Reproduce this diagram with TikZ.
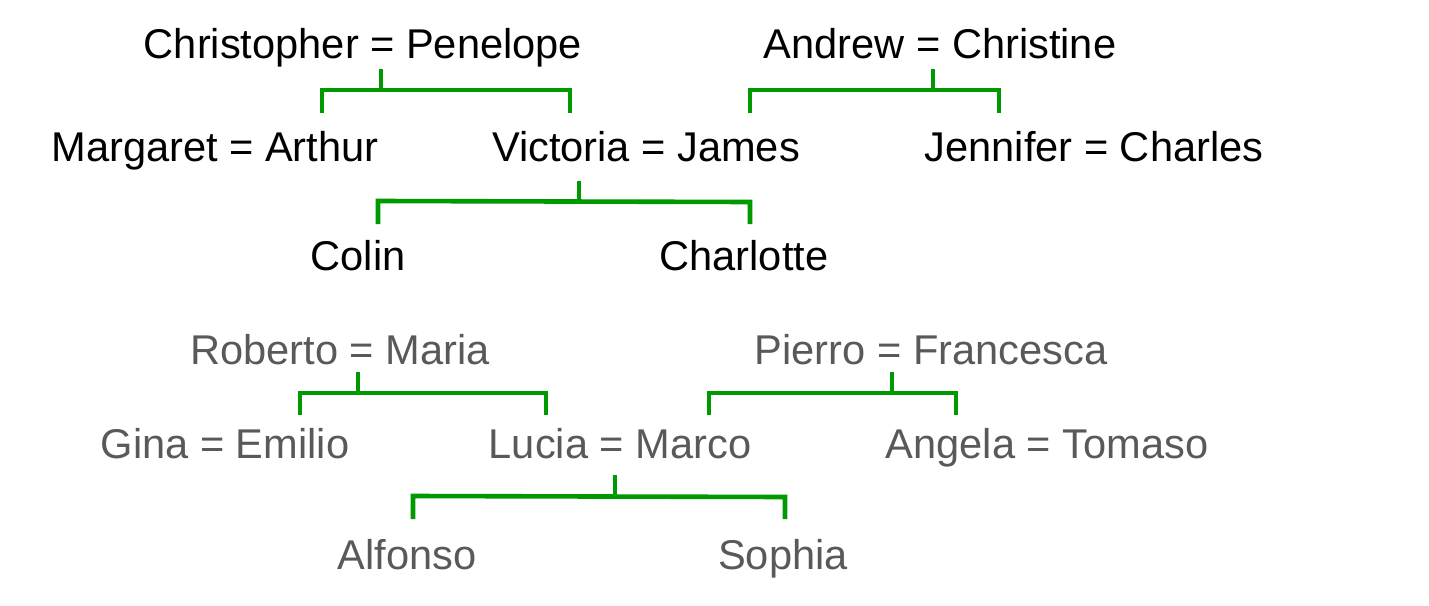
\documentclass[tikz,border=0pt]{standalone}
\usepackage{fontspec}
\setmainfont{Liberation Sans}
\definecolor{brgreen}{HTML}{009900}
\definecolor{txtgray}{HTML}{595959}
\tikzset{
  person/.style={anchor=base, inner sep=0pt, font=\fontsize{41.6}{50}\selectfont},
  oldperson/.style={person, text=black},
  newperson/.style={person, text=txtgray},
  bracket/.style={draw=brgreen, line width=4.6pt, line cap=butt, line join=miter}
}
\begin{document}
\begin{tikzpicture}[x=1pt,y=-1pt]
\useasboundingbox (0,0) rectangle (1429,605);
% upper family
\node[oldperson] (cp) at (363,58) {Christopher = Penelope};
\node[oldperson] (ac) at (940,58) {Andrew = Christine};
\node[oldperson] (ma) at (215,161) {Margaret = Arthur};
\node[oldperson] (vj) at (646,161) {Victoria = James};
\node[oldperson] (jc) at (1094,161) {Jennifer = Charles};
\node[oldperson] (co) at (358,270) {Colin};
\node[oldperson] (ch) at (744,270) {Charlotte};
% lower family
\node[newperson] (rm) at (340,364) {Roberto = Maria};
\node[newperson] (pf) at (931,364) {Pierro = Francesca};
\node[newperson] (ge) at (225,458) {Gina = Emilio};
\node[newperson] (lm) at (620,458) {Lucia = Marco};
\node[newperson] (at) at (1047,458) {Angela = Tomaso};
\node[newperson] (al) at (407,569) {Alfonso};
\node[newperson] (so) at (783,569) {Sophia};
% bracket coordinates
\coordinate (cpS) at (381,69);  \coordinate (cpL) at (322,113); \coordinate (cpR) at (570,113);
\coordinate (acS) at (933,69);  \coordinate (acL) at (750,113); \coordinate (acR) at (999,113);
\coordinate (vjS) at (579,181); \coordinate (vjL) at (378,224); \coordinate (vjR) at (750,224);
\coordinate (rmS) at (358,372); \coordinate (rmL) at (300,415); \coordinate (rmR) at (546,415);
\coordinate (pfS) at (892,372); \coordinate (pfL) at (709,415); \coordinate (pfR) at (956,415);
\coordinate (lmS) at (615,475); \coordinate (lmL) at (413,519); \coordinate (lmR) at (785,519);
% brackets
\draw[bracket] (cpS) -- (cpS |- 0,90);
\draw[bracket] (cpL) -- (cpL |- 0,90) -- (cpR |- 0,90) -- (cpR);
\draw[bracket] (acS) -- (acS |- 0,90);
\draw[bracket] (acL) -- (acL |- 0,90) -- (acR |- 0,90) -- (acR);
\draw[bracket] (vjS) -- (vjS |- 0,201.5);
\draw[bracket] (vjL) -- (vjL |- 0,201) -- (vjR |- 0,202) -- (vjR);
\draw[bracket] (rmS) -- (rmS |- 0,393);
\draw[bracket] (rmL) -- (rmL |- 0,393) -- (rmR |- 0,393) -- (rmR);
\draw[bracket] (pfS) -- (pfS |- 0,393);
\draw[bracket] (pfL) -- (pfL |- 0,393) -- (pfR |- 0,393) -- (pfR);
\draw[bracket] (lmS) -- (lmS |- 0,496.5);
\draw[bracket] (lmL) -- (lmL |- 0,496) -- (lmR |- 0,497) -- (lmR);
\end{tikzpicture}
\end{document}
